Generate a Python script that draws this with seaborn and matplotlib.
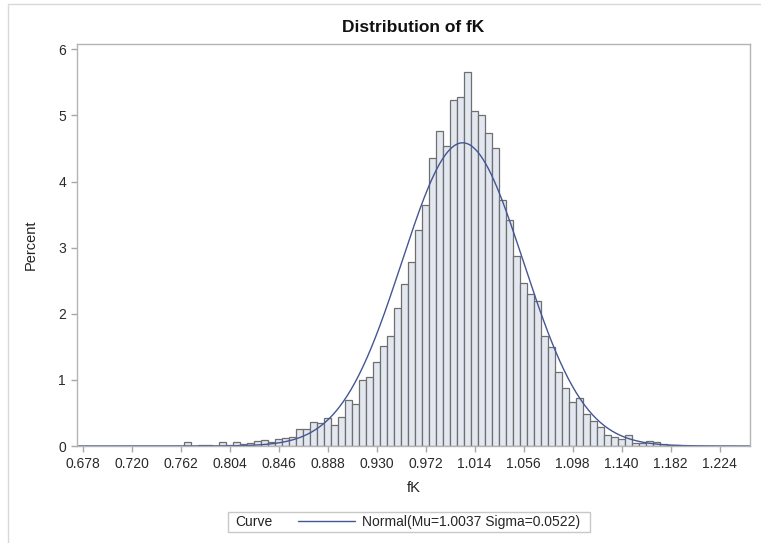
import numpy as np
import pandas as pd
import matplotlib
matplotlib.use("Agg")
import matplotlib.pyplot as plt
import seaborn as sns
from matplotlib.lines import Line2D
from matplotlib.patches import Rectangle

# 구간 폭 0.006, 구간 중앙값 0.678 부터
bin_width = 0.006
bin_mid = np.round(0.678 + bin_width * np.arange(94), 3)

# 각 구간 백분율
percent = [
    0, 0, 0, 0, 0, 0, 0, 0, 0, 0,
    0, 0, 0, 0, 0, 0.06, 0.0, 0.01, 0.01, 0.0,
    0.055, 0.01, 0.065, 0.03, 0.04, 0.08, 0.085, 0.06, 0.11, 0.125,
    0.14, 0.26, 0.25, 0.36, 0.35, 0.43, 0.32, 0.44, 0.69, 0.63,
    1.00, 1.05, 1.27, 1.51, 1.67, 2.08, 2.45, 2.78, 3.26, 3.64,
    4.35, 4.76, 4.54, 5.24, 5.28, 5.66, 5.06, 5.01, 4.74, 4.50,
    3.72, 3.42, 2.88, 2.47, 2.30, 2.19, 1.67, 1.50, 1.12, 0.87,
    0.67, 0.72, 0.48, 0.375, 0.29, 0.17, 0.13, 0.10, 0.16, 0.05,
    0.04, 0.08, 0.065, 0.03, 0.02, 0.01, 0, 0, 0, 0,
    0, 0, 0, 0,
]

# 정규분포 적합 모수
mu = 1.0037
sigma = 0.0522

xticks = [0.678, 0.720, 0.762, 0.804, 0.846, 0.888, 0.930, 0.972,
          1.014, 1.056, 1.098, 1.140, 1.182, 1.224]
yticks = [0, 1, 2, 3, 4, 5, 6]

df = pd.DataFrame({'fK': bin_mid, 'Percent': percent})

sns.set_style('white')
plt.rcParams['font.family'] = ['Liberation Sans', 'DejaVu Sans']

W, H = 761, 543
fig = plt.figure(figsize=(W / 100, H / 100), dpi=100)
ax = fig.add_axes([77 / W, 1 - 446 / H, 673 / W, 402 / H])

sns.histplot(data=df, x='fK', weights='Percent', binwidth=bin_width,
             binrange=(bin_mid[0] - bin_width / 2, bin_mid[-1] + bin_width / 2), ax=ax,
             color='#e2e7f0', edgecolor='#6f6f6f', linewidth=0.9, alpha=1)

# 정규 곡선 (백분율 스케일)
xlim = (0.6731, 1.2500)
xs = np.linspace(xlim[0], xlim[1], 500)
ys = 100 * bin_width * np.exp(-0.5 * ((xs - mu) / sigma) ** 2) / (sigma * np.sqrt(2 * np.pi))
sns.lineplot(x=xs, y=ys, color='#445694', linewidth=1.0, ax=ax)

ax.set_xlim(xlim)
ax.set_ylim(0, 6.08)
ax.set_xticks(xticks)
ax.set_xticklabels(['%.3f' % v for v in xticks])
ax.set_yticks(yticks)
ax.tick_params(axis='both', bottom=True, left=True, length=4.5, width=1, color='#a8a8a8',
               labelsize=10, labelcolor='#2a2a2a', pad=3.5)
for s in ax.spines.values():
    s.set_visible(True)
    s.set_color('#b4b4b4')
    s.set_linewidth(1)

ax.set_title('Distribution of fK', fontsize=12.5, fontweight='bold', pad=9, color='#111111')
ax.set_xlabel('fK', fontsize=10.5, color='#222222')
ax.set_ylabel('Percent', fontsize=10.5, color='#222222')
ax.xaxis.set_label_coords(0.5, (446 - 481) / 402)
ax.yaxis.set_label_coords((38 - 77) / 673, 0.5)

# 범례 박스
fig.patches.append(Rectangle((228 / W, 1 - 531.7 / H), 362 / W, 19.4 / H,
                             transform=fig.transFigure, fill=False,
                             edgecolor='#c8c8c8', linewidth=1))
fig.text(235 / W, 1 - 522 / H, 'Curve', fontsize=10, va='center', ha='left', color='#222222')
fig.legend([ax.lines[0]], ['Normal(Mu=%.4f Sigma=%.4f)' % (mu, sigma)],
           loc='center left', bbox_to_anchor=(298 / W, 1 - 522 / H),
           frameon=False, handlelength=4.1, handletextpad=0.5,
           borderpad=0, borderaxespad=0, fontsize=10)

# 바깥 테두리 (위, 왼쪽)
fig.lines.append(Line2D([8 / W, 8 / W, 1.0], [0.0, 1 - 4 / H, 1 - 4 / H],
                        transform=fig.transFigure, color='#d8d8d8', linewidth=1))

fig.savefig('out.png', dpi=100)
